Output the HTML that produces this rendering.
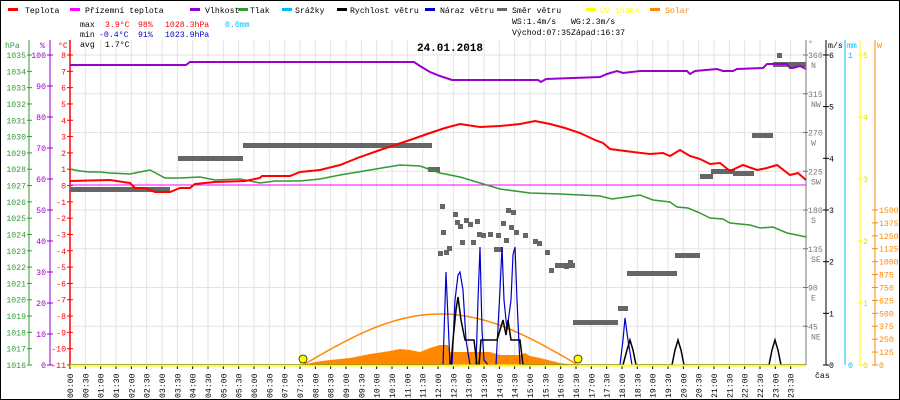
<!DOCTYPE html>
<html><head><meta charset="utf-8"><style>
html,body{margin:0;padding:0;background:#fff}
svg{display:block}
text{font-family:"Liberation Mono",monospace;font-size:8.2px}
</style></head><body>
<svg id="s" width="900" height="400" xmlns="http://www.w3.org/2000/svg"></svg>
<script>
const s=document.getElementById('s');let h='';
h+='<rect x="0.5" y="0.5" width="899" height="399" fill="#fff" stroke="#000"/>';
for(let i=0;i<=48;i++){const x=70+i*15.333;h+=`<line x1="${x}" y1="40" x2="${x}" y2="365" stroke="#e6e2e2"/>`;}
for(let i=0;i<8;i++){const y=55+i*38.75;h+=`<line x1="70" y1="${y}" x2="806" y2="${y}" stroke="#e6e2e2"/>`;}
const leg=[[8,25,'#f00','Teplota'],[70,85,'#f0f','Přízemní teplota'],[190,205,'#90c','Vlhkost'],[238,250,'#393','Tlak'],[282,295,'#0bf','Srážky'],[337,350,'#000','Rychlost větru'],[425,440,'#00c','Náraz větru'],[497,512,'#666','Směr větru'],[586,600,'#ff0','UV index'],[650,665,'#f80','Solar']];
leg.forEach(([x,tx,c,t])=>{h+=`<rect x="${x}" y="8" width="10" height="3" fill="${c}"/><text x="${tx}" y="13" fill="${(c=='#ff0'||c=='#f80')?c:'#000'}">${t}</text>`;});
const T=(x,y,c,t,a)=>{h+=`<text x="${x}" y="${y}" fill="${c}"${a?` text-anchor="${a}"`:''}>${t}</text>`;};
T(80,27,'#000','max');T(105,27,'#f00','3.9°C');T(138,27,'#f00','98%');T(165,27,'#f00','1028.3hPa');T(225,27,'#0bf','0.0mm');
T(80,37,'#000','min');T(99,37,'#00c','-0.4°C');T(138,37,'#00c','91%');T(165,37,'#00c','1023.9hPa');
T(80,47,'#000','avg');T(105,47,'#000','1.7°C');
T(512,24,'#000','WS:1.4m/s');T(571,24,'#000','WG:2.3m/s');T(512,35,'#000','Východ:07:35');T(571,35,'#000','Západ:16:37');
h+=`<text x="450" y="51" text-anchor="middle" style="font-weight:bold;font-size:11px">24.01.2018</text>`;
T(5,48,'#393','hPa');T(40,48,'#90c','%');T(58,48,'#f00','°C');
h+='<line x1="29" y1="40" x2="29" y2="365" stroke="#393"/><line x1="50" y1="40" x2="50" y2="365" stroke="#90c"/><line x1="70" y1="40" x2="70" y2="365" stroke="#f00" stroke-width="1.5"/>';
for(let i=0;i<=19;i++){const y=365-i*16.316;T(26,y+3,'#393',1016+i,'end');h+=`<line x1="27" y1="${y}" x2="32" y2="${y}" stroke="#393"/>`;
T(66,y+3,'#f00',-11+i,'end');h+=`<line x1="67" y1="${y}" x2="73" y2="${y}" stroke="#f00"/>`;}
for(let i=0;i<=10;i++){const y=365-i*31;T(46,y+3,'#90c',i*10,'end');h+=`<line x1="47" y1="${y}" x2="53" y2="${y}" stroke="#90c"/>`;}
h+='<line x1="806" y1="40" x2="806" y2="365" stroke="#777"/><line x1="826" y1="40" x2="826" y2="365" stroke="#000"/><line x1="845" y1="40" x2="845" y2="365" stroke="#0bf"/><line x1="860" y1="40" x2="860" y2="365" stroke="#ff0"/><line x1="875" y1="40" x2="875" y2="365" stroke="#f80"/>';
T(808,46,'#777','°');T(828,48,'#000','m/s');T(847,48,'#0bf','mm');T(877,48,'#f80','W');
const dn=['N','NW','W','SW','S','SE','E','NE'];
for(let i=0;i<8;i++){const y=55+i*38.75;T(808,y+3,'#777',360-45*i);T(811,y+13,'#777',dn[i]);h+=`<line x1="803" y1="${y}" x2="808" y2="${y}" stroke="#777"/>`;}
for(let i=0;i<=6;i++){const y=365-i*51.67;T(829,y+3,'#000',i);h+=`<line x1="823" y1="${y}" x2="829" y2="${y}" stroke="#000"/>`;}
T(848,58,'#0bf','1');T(848,368,'#0bf','0');
for(let i=0;i<=5;i++){const y=365-i*62;T(863,y+3,'#dd0',i);h+=`<line x1="857" y1="${y}" x2="863" y2="${y}" stroke="#ff0"/>`;}
for(let i=0;i<=12;i++){const y=365-i*12.92;T(879,y+3,'#f80',i*125);h+=`<line x1="872" y1="${y}" x2="878" y2="${y}" stroke="#f80"/>`;}
T(815,378,'#000','čas');
for(let i=0;i<48;i++){const x=70+i*15.333;const t=String(Math.floor(i/2)).padStart(2,'0')+':'+(i%2?'30':'00');
h+=`<line x1="${x}" y1="365" x2="${x}" y2="369" stroke="#000"/><text transform="translate(${x+3},398) rotate(-90)">${t}</text>`;}
const sf=[[303,365],[315,362],[330,360],[350,358],[370,354],[390,351],[400,349],[410,350],[420,352],[430,348],[440,345],[448,345],[450,352],[470,352],[490,352],[500,355],[520,355],[525,353],[530,356],[540,358],[560,363],[575,365]];
h+=`<polygon fill="#f80" points="${sf.map(p=>p.join(',')).join(' ')}"/>`;
let sp=[];for(let x=303;x<=578;x+=3)sp.push(x+','+(365-51*Math.sin(Math.PI*(x-303)/275)).toFixed(1));
h+=`<polyline fill="none" stroke="#f80" stroke-width="1.5" points="${sp.join(' ')}"/>`;
h+='<line x1="70" y1="185" x2="806" y2="185" stroke="#f0f"/>';
const wd=[[70,170,189],[178,243,158],[243,432,145],[428,440,169],[573,618,322],[618,628,308],[627,677,273],[675,700,255],[700,713,176],[711,735,171],[733,754,173],[752,773,135],[773,806,64],[555,575,265]];
wd.forEach(([a,b,y])=>{h+=`<rect x="${a}" y="${y-2}" width="${b-a}" height="5" fill="#666"/>`;});
const pts=[[779,55],[442,206],[455,214],[457,222],[460,226],[466,220],[470,224],[477,221],[446,252],[449,248],[443,232],[462,242],[473,242],[479,234],[483,235],[490,234],[498,235],[508,210],[513,212],[503,223],[511,227],[506,240],[500,249],[496,249],[516,232],[525,235],[535,241],[539,243],[547,252],[551,270],[566,266],[570,262],[440,253]];
pts.forEach(([x,y])=>{h+=`<rect x="${x-2}" y="${y-2}" width="5" height="5" fill="#666"/>`;});
const hu=[[70,65],[186,65],[190,62],[414,62],[420,66],[430,72],[440,76],[452,80],[538,80],[541,82],[546,79],[600,77],[607,74],[617,71],[623,73],[640,71],[687,71],[690,74],[695,71],[717,69],[723,71],[733,71],[737,69],[763,68],[767,64],[787,64],[790,68],[793,68],[800,66],[806,69]];
h+=`<polyline fill="none" stroke="#90c" stroke-width="2" points="${hu.map(p=>p.join(',')).join(' ')}"/>`;
const pr=[[70,169],[80,171],[90,172],[100,172],[110,173],[130,174],[145,171],[150,170],[165,178],[180,178],[200,177],[215,180],[240,179],[260,183],[275,181],[300,181],[320,179],[340,175],[370,170],[400,165],[420,166],[440,173],[460,177],[480,183],[500,189],[530,193],[560,194],[580,195],[600,196],[612,199],[640,195],[653,200],[670,202],[677,207],[688,208],[700,213],[710,218],[723,219],[730,223],[750,225],[760,228],[773,227],[787,233],[797,235],[806,237]];
h+=`<polyline fill="none" stroke="#393" stroke-width="1.5" points="${pr.map(p=>p.join(',')).join(' ')}"/>`;
const te=[[70,181],[110,180],[130,183],[135,188],[145,188],[155,192],[170,192],[180,188],[190,188],[195,184],[215,182],[245,181],[260,178],[262,176],[290,176],[300,172],[320,170],[340,165],[360,157],[380,150],[410,140],[430,133],[445,128],[460,124],[480,127],[500,126],[520,124],[535,121],[550,124],[565,128],[580,133],[595,140],[603,143],[610,149],[633,152],[650,154],[663,153],[670,156],[680,150],[690,156],[700,159],[710,164],[720,163],[730,171],[743,165],[757,170],[767,168],[777,165],[790,175],[798,173],[806,180]];
h+=`<polyline fill="none" stroke="#f00" stroke-width="2" points="${te.map(p=>p.join(',')).join(' ')}"/>`;
const gu=[[70,365],[443,365],[446,272],[450,365],[452,365],[455,300],[458,275],[460,272],[463,290],[466,340],[470,365],[476,365],[478,300],[480,247],[482,330],[484,360],[488,365],[496,365],[500,290],[502,247],[504,300],[507,330],[511,300],[513,255],[515,247],[517,300],[520,365],[620,365],[623,340],[625,318],[628,340],[632,365],[806,365]];
h+=`<polyline fill="none" stroke="#00c" stroke-width="1.2" points="${gu.map(p=>p.join(',')).join(' ')}"/>`;
const ws=[[70,365],[451,365],[453,340],[456,310],[458,297],[461,320],[465,340],[474,340],[477,365],[479,365],[481,340],[497,340],[500,330],[503,320],[506,335],[508,320],[511,340],[520,340],[523,365],[623,365],[627,350],[630,340],[633,350],[636,365],[672,365],[675,350],[678,340],[681,350],[684,365],[769,365],[772,350],[775,340],[778,350],[781,365],[806,365]];
h+=`<polyline fill="none" stroke="#000" stroke-width="1.5" points="${ws.map(p=>p.join(',')).join(' ')}"/>`;
h+='<line x1="70" y1="365.5" x2="806" y2="365.5" stroke="#ff0" stroke-width="2"/>';
h+='<circle cx="303" cy="359" r="4" fill="#ff0" stroke="#000" stroke-width="0.7"/><circle cx="578" cy="359" r="4" fill="#ff0" stroke="#000" stroke-width="0.7"/>';
s.innerHTML=h;
</script>
</body></html>
